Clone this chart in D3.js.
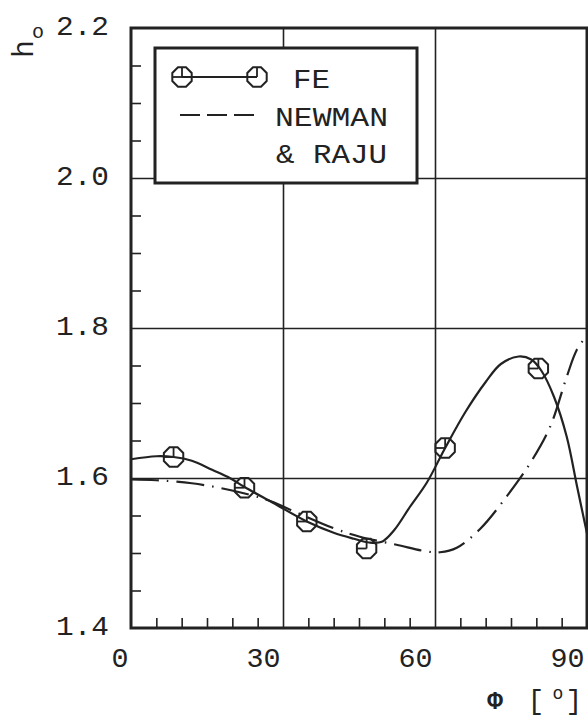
<!DOCTYPE html>
<html><head><meta charset="utf-8">
<script src="https://cdn.jsdelivr.net/npm/d3@7"></script>
<style>
body{margin:0;background:#fff}
svg{display:block}
text{font-family:"Liberation Mono","DejaVu Sans Mono",monospace;fill:#222}
</style>
</head><body>
<svg id="c" width="588" height="718"></svg>
<script>
// ---- data ----
const xTicks = [0, 30, 60, 90];
const xTickLabels = ["0", "30", "60", "90"];
const yTicks = [1.4, 1.6, 1.8, 2.0, 2.2];
const yTickLabels = ["1.4", "1.6", "1.8", "2.0", "2.2"];
const xMinor = [5,10,15,20,25,35,40,45,50,55,65,70,75,80,85];
const yMinor = [1.45,1.5,1.55,1.65,1.7,1.75,1.85,1.9,1.95,2.05,2.1,2.15];

const feMarkerPhi = [8.4, 22.4, 34.7, 46.5, 62.0, 80.4];
const feMarkerH   = [1.628, 1.587, 1.542, 1.506, 1.640, 1.746];

const feCurvePhi = [0, 5, 8.4, 12, 16, 19.5, 22.4, 28, 34.7, 40, 44, 47, 49.5, 52, 55, 58.4, 62, 66, 70, 73, 76.5, 79, 81, 83.5, 86, 88, 90];
const feCurveH   = [1.625, 1.629, 1.628, 1.623, 1.611, 1.600, 1.588, 1.567, 1.542, 1.527, 1.519, 1.514, 1.515, 1.531, 1.561, 1.594, 1.640, 1.688, 1.728, 1.752, 1.762, 1.758, 1.743, 1.708, 1.655, 1.590, 1.526];

const nrPhi = [0, 5, 12, 19.5, 26.8, 32, 40, 45, 52.4, 58.4, 61, 64.3, 68.9, 74.1, 78.8, 82.7, 86, 88, 90];
const nrH   = [1.598, 1.597, 1.593, 1.584, 1.571, 1.556, 1.533, 1.522, 1.511, 1.502, 1.501, 1.507, 1.532, 1.575, 1.620, 1.668, 1.735, 1.771, 1.790];

const legendLabels = ["FE", "NEWMAN", "& RAJU"];

// ---- layout ----
const svg = d3.select("#c");
const L = 131, R = 587, T = 28, B = 628;
const x = d3.scaleLinear().domain([0, 90]).range([L, R]);
const y = d3.scaleLinear().domain([1.4, 2.2]).range([B, T]);
const ink = "#222";

// grid lines
svg.append("g").attr("transform", `translate(0,${B})`)
  .call(d3.axisBottom(x).tickValues([30, 60]).tickSize(-(B - T)).tickFormat(""))
  .call(g => { g.select(".domain").remove(); g.selectAll("line").attr("stroke", ink).attr("stroke-width", 1.6); });
svg.append("g").attr("transform", `translate(${L},0)`)
  .call(d3.axisLeft(y).tickValues([1.6, 1.8, 2.0]).tickSize(-(R - L)).tickFormat(""))
  .call(g => { g.select(".domain").remove(); g.selectAll("line").attr("stroke", ink).attr("stroke-width", 1.6); });

// minor ticks (inward)
svg.append("g").attr("transform", `translate(0,${B})`)
  .call(d3.axisBottom(x).tickValues(xMinor).tickSize(-10).tickFormat(""))
  .call(g => { g.select(".domain").remove(); g.selectAll("line").attr("stroke", ink).attr("stroke-width", 1.6); });
svg.append("g").attr("transform", `translate(${L},0)`)
  .call(d3.axisLeft(y).tickValues(yMinor).tickSize(-10).tickFormat(""))
  .call(g => { g.select(".domain").remove(); g.selectAll("line").attr("stroke", ink).attr("stroke-width", 1.6); });

// tick labels
svg.append("g").attr("transform", `translate(0,${B})`)
  .call(d3.axisBottom(x).tickValues(xTicks).tickSize(0).tickFormat((d, i) => xTickLabels[i]))
  .call(g => {
    g.select(".domain").remove();
    g.selectAll("text")
      .attr("font-size", 27).attr("fill", ink)
      .attr("text-anchor", "end").attr("dx", -3).attr("y", 39).attr("dy", 0)
      .attr("textLength", d => 17 * String(d).length).attr("lengthAdjust", "spacingAndGlyphs");
  });
svg.append("g").attr("transform", `translate(${L},0)`)
  .call(d3.axisLeft(y).tickValues(yTicks).tickSize(0).tickFormat((d, i) => yTickLabels[i]))
  .call(g => {
    g.select(".domain").remove();
    g.selectAll("text")
      .attr("font-size", 27).attr("fill", ink)
      .attr("text-anchor", "end").attr("x", -22).attr("dy", 6)
      .attr("textLength", 53).attr("lengthAdjust", "spacingAndGlyphs");
  });
svg.selectAll("g").attr("font-family", null).attr("font-size", null);

// curves
svg.append("clipPath").attr("id", "pa").append("rect")
  .attr("x", L).attr("y", T).attr("width", R - L).attr("height", B - T);
const line = d3.line().x(d => x(d[0])).y(d => y(d[1])).curve(d3.curveCatmullRom.alpha(0.5));

svg.append("path")
  .datum(nrPhi.map((p, i) => [p, nrH[i]]))
  .attr("d", line).attr("fill", "none").attr("stroke", ink).attr("stroke-width", 2.2)
  .attr("stroke-dasharray", "28,8,1.5,8").attr("clip-path", "url(#pa)");

svg.append("path")
  .datum(feCurvePhi.map((p, i) => [p, feCurveH[i]]))
  .attr("d", line).attr("fill", "none").attr("stroke", ink).attr("stroke-width", 2.2)
  .attr("clip-path", "url(#pa)");

// marker symbol
const rO = 10.5;
function octagon() {
  const pts = d3.range(8).map(k => {
    const a = Math.PI / 8 + k * Math.PI / 4;
    return [rO * Math.cos(a), rO * Math.sin(a)];
  });
  return "M" + pts.map(p => p.join(",")).join("L") + "Z";
}
function drawMarker(g) {
  g.append("path").attr("d", octagon()).attr("fill", "none").attr("stroke", ink).attr("stroke-width", 2);
  g.append("line").attr("x1", 0).attr("y1", -rO * 0.93).attr("x2", 0).attr("y2", 0)
    .attr("stroke", ink).attr("stroke-width", 1.8);
  g.append("line").attr("x1", -rO * 0.93).attr("y1", 0).attr("x2", 0).attr("y2", 0)
    .attr("stroke", ink).attr("stroke-width", 1.8);
}
svg.append("g").selectAll("g").data(feMarkerPhi.map((p, i) => [p, feMarkerH[i]]))
  .join("g").attr("transform", d => `translate(${x(d[0])},${y(d[1])})`)
  .each(function () { drawMarker(d3.select(this)); });

// frame
svg.append("rect").attr("x", L).attr("y", T).attr("width", R - L).attr("height", B - T)
  .attr("fill", "none").attr("stroke", ink).attr("stroke-width", 3);

// legend
const lg = svg.append("g");
lg.append("rect").attr("x", 155).attr("y", 48).attr("width", 262).attr("height", 135)
  .attr("fill", "#fff").attr("stroke", ink).attr("stroke-width", 3);
lg.append("line").attr("x1", 182).attr("y1", 77).attr("x2", 257).attr("y2", 77)
  .attr("stroke", ink).attr("stroke-width", 2);
[182, 257].forEach(cx => drawMarker(lg.append("g").attr("transform", `translate(${cx},77)`)));
lg.append("line").attr("x1", 180).attr("y1", 115).attr("x2", 254).attr("y2", 115)
  .attr("stroke", ink).attr("stroke-width", 2).attr("stroke-dasharray", "20,7");
const legPos = [[293, 88, 37], [275, 126, 113], [276, 163, 111]];
legendLabels.forEach((t, i) => {
  lg.append("text").attr("x", legPos[i][0]).attr("y", legPos[i][1])
    .attr("font-size", 28).attr("fill", ink)
    .attr("textLength", legPos[i][2]).attr("lengthAdjust", "spacingAndGlyphs").text(t);
});

// axis titles
svg.append("text").attr("transform", "translate(33,58) rotate(-90)")
  .attr("font-size", 30).attr("fill", ink).text("h");
svg.append("text").attr("x", 38).attr("y", 38).attr("text-anchor", "middle")
  .attr("font-size", 20).attr("fill", ink).text("o");

svg.append("text").attr("x", 495).attr("y", 709).attr("text-anchor", "middle")
  .attr("font-size", 26).attr("font-weight", "bold").attr("fill", ink).text("Φ");
svg.append("text").attr("x", 536).attr("y", 709).attr("text-anchor", "middle")
  .attr("font-size", 28).attr("fill", ink).text("[");
svg.append("text").attr("x", 558).attr("y", 699).attr("text-anchor", "middle")
  .attr("font-size", 18).attr("fill", ink).text("o");
svg.append("text").attr("x", 574).attr("y", 709).attr("text-anchor", "middle")
  .attr("font-size", 28).attr("fill", ink).text("]");
</script>
</body></html>
